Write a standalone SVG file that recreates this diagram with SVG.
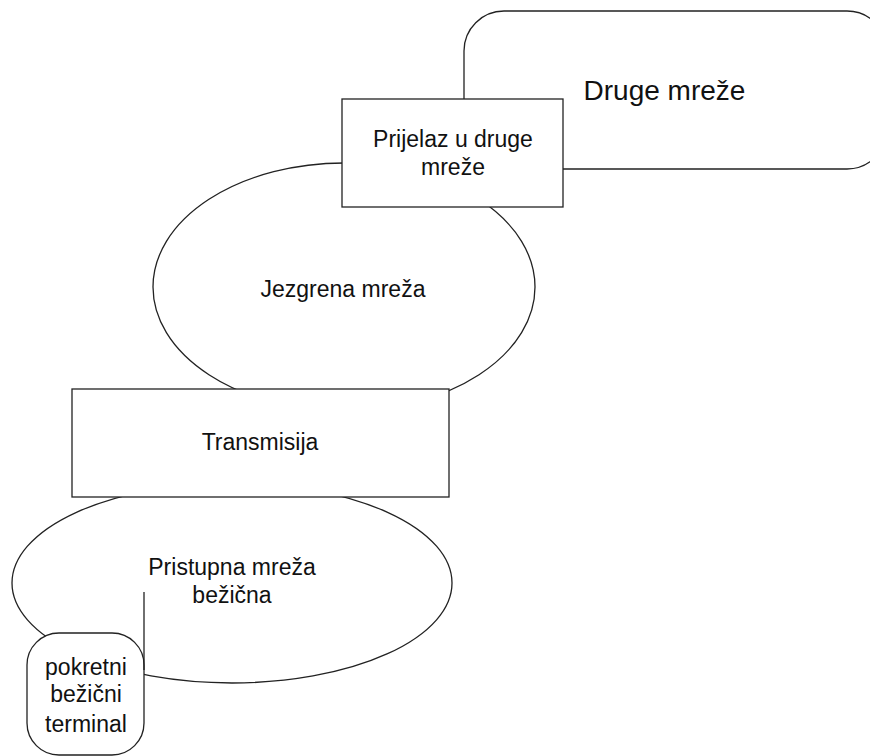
<svg xmlns="http://www.w3.org/2000/svg" width="870" height="756" viewBox="0 0 870 756">
<style>
.s{fill:#fff;stroke:#222;stroke-width:1.3}
.t{font-family:"Liberation Sans",Arial,sans-serif;font-size:23px;fill:#111;text-anchor:middle}
.c{stroke:#222;stroke-width:1.3;fill:none}
</style>
<rect width="870" height="756" fill="#fff"/>
<g id="druge-mreze">
<rect class="s" x="464" y="11" width="423" height="158" rx="40" ry="40"/>
<text class="t" x="664.5" y="100" style="font-size:28px">Druge mreže</text>
</g>
<g id="jezgrena-mreza">
<ellipse class="s" cx="344" cy="287" rx="191" ry="124"/>
<text class="t" x="343" y="297">Jezgrena mreža</text>
</g>
<g id="prijelaz">
<rect class="s" x="342" y="99" width="221" height="108"/>
<text class="t" x="453" y="147">Prijelaz u druge</text>
<text class="t" x="453" y="175">mreže</text>
</g>
<g id="pristupna-mreza">
<ellipse class="s" cx="232" cy="583" rx="220" ry="100"/>
<text class="t" x="232" y="575">Pristupna mreža</text>
<text class="t" x="232" y="603">bežična</text>
</g>
<g id="transmisija">
<rect class="s" x="72" y="389" width="377" height="108"/>
<text class="t" x="260" y="450">Transmisija</text>
</g>
<g id="terminal">
<rect class="s" x="27" y="633" width="117" height="122" rx="32" ry="32"/>
<text class="t" x="86" y="675">pokretni</text>
<text class="t" x="86" y="702">bežični</text>
<text class="t" x="86" y="732">terminal</text>
</g>
<g id="connectors">
<line class="c" x1="144" y1="592" x2="144" y2="670"/>
</g>
</svg>
